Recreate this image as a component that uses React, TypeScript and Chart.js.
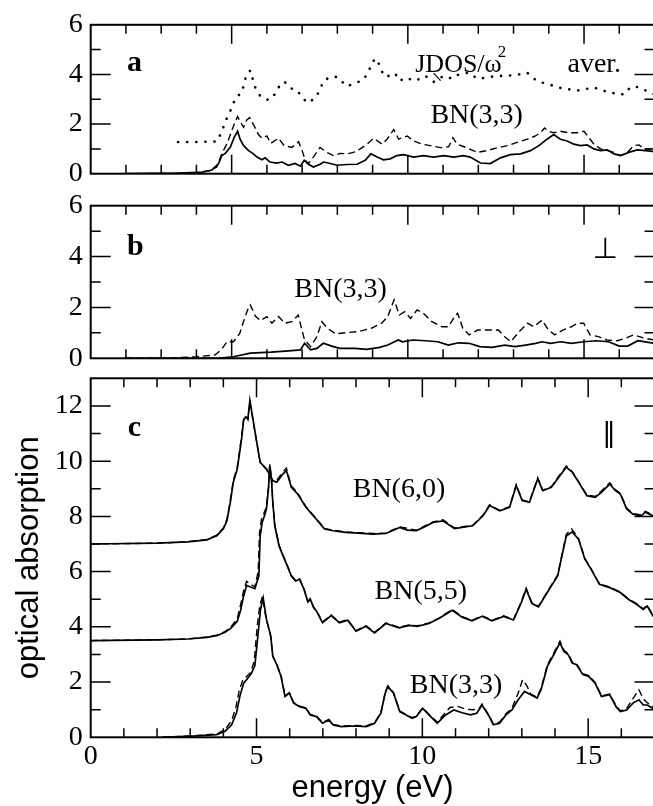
import React, { useEffect, useRef } from 'react';
import { Chart, registerables } from 'chart.js';

Chart.register(...registerables);

type Pt = [number, number];

// ---------------- data ----------------
// panel a (averaged)
const aJdos: Pt[] = [[3.48,1.28],[4.0,1.28],[4.59,1.3],[4.72,1.71],[4.89,2.33],[5.02,2.69],[5.1,3.05],[5.29,3.26],[5.41,3.94],[5.53,4.16],[5.6,3.8],[5.67,3.48],[5.81,3.13],[6.05,2.96],[6.24,3.22],[6.36,3.55],[6.5,3.71],[6.66,3.45],[6.87,3.35],[7.0,3.05],[7.18,2.85],[7.4,3.09],[7.51,3.41],[7.61,3.74],[7.8,3.9],[7.99,3.9],[8.27,3.52],[8.51,3.65],[8.74,3.78],[8.89,4.13],[8.98,4.46],[9.08,4.65],[9.22,4.33],[9.31,3.94],[9.5,3.94],[9.64,4.04],[9.77,3.74],[9.93,3.87],[10.21,3.74],[10.5,3.94],[10.73,3.7],[11.02,3.94],[11.26,3.83],[11.44,4.0],[11.73,4.07],[11.97,3.83],[12.25,3.87],[12.49,3.94],[12.72,3.94],[12.91,3.96],[13.15,4.0],[13.39,4.07],[13.53,3.87],[13.72,3.7],[14.0,3.61],[14.24,3.48],[14.52,3.41],[14.81,3.35],[15.04,3.41],[15.28,3.48],[15.52,3.35],[15.75,3.28],[15.99,3.18],[16.18,3.22],[16.27,3.41],[16.37,3.52],[16.56,3.48],[16.75,3.35],[16.94,3.22],[17,3.2]];
const aSolid: Pt[] = [[2.0,0],[3.44,0.02],[4.1,0.05],[4.44,0.15],[4.63,0.41],[4.72,0.73],[4.82,0.82],[4.96,1.06],[5.07,1.45],[5.17,1.71],[5.24,1.39],[5.34,1.13],[5.48,0.93],[5.62,0.8],[5.72,0.67],[5.86,0.56],[5.95,0.64],[6.09,0.47],[6.28,0.43],[6.43,0.47],[6.61,0.34],[6.8,0.41],[6.95,0.3],[7.06,0.54],[7.18,0.38],[7.32,0.27],[7.51,0.38],[7.61,0.47],[7.8,0.41],[7.99,0.34],[8.27,0.37],[8.56,0.38],[8.79,0.54],[8.95,0.8],[9.13,0.67],[9.31,0.56],[9.5,0.6],[9.69,0.73],[9.88,0.77],[10.16,0.67],[10.45,0.73],[10.73,0.67],[11.02,0.73],[11.3,0.67],[11.58,0.73],[11.77,0.67],[12.06,0.43],[12.34,0.41],[12.63,0.64],[12.91,0.77],[13.2,0.8],[13.48,0.93],[13.72,1.13],[13.95,1.39],[14.14,1.58],[14.33,1.39],[14.52,1.32],[14.71,1.19],[14.9,1.13],[15.09,1.16],[15.28,1.0],[15.47,0.93],[15.66,0.96],[15.85,0.8],[16.04,0.73],[16.27,0.86],[16.51,0.96],[16.75,0.93],[16.94,0.9],[17,0.9]];
const aDashed: Pt[] = [[2.0,0],[3.5,0.01],[4.01,0.04],[4.39,0.12],[4.58,0.27],[4.72,0.8],[4.86,1.19],[5.0,1.71],[5.1,2.1],[5.17,2.3],[5.24,2.1],[5.34,1.87],[5.43,2.17],[5.51,2.26],[5.62,1.98],[5.76,1.58],[5.86,1.43],[6.0,1.52],[6.11,1.22],[6.33,1.43],[6.49,1.13],[6.71,1.06],[6.9,1.29],[7.0,0.93],[7.09,0.54],[7.18,0.41],[7.32,0.67],[7.51,1.06],[7.7,0.86],[7.89,0.73],[8.08,0.82],[8.27,0.8],[8.46,0.86],[8.65,1.0],[8.84,1.19],[9.03,1.43],[9.27,1.19],[9.41,1.39],[9.6,1.78],[9.74,1.39],[9.98,1.52],[10.16,1.32],[10.4,1.19],[10.64,1.13],[10.97,1.04],[11.16,1.09],[11.28,1.45],[11.4,1.19],[11.68,1.04],[11.97,0.86],[12.25,0.93],[12.53,1.04],[12.82,1.13],[13.1,1.26],[13.39,1.39],[13.62,1.52],[13.76,1.65],[13.88,1.84],[14.0,1.71],[14.14,1.65],[14.33,1.71],[14.57,1.65],[14.81,1.65],[15.0,1.71],[15.14,1.45],[15.28,1.19],[15.47,1.0],[15.66,0.93],[15.85,0.86],[16.04,0.73],[16.23,0.86],[16.41,1.13],[16.56,1.16],[16.7,1.0],[16.89,1.0],[17,1.0]];

// panel b (perpendicular)
const bSolid: Pt[] = [[2.0,0],[4.58,0],[5.05,0.06],[5.53,0.2],[6.12,0.24],[6.71,0.3],[6.95,0.33],[7.07,0.59],[7.24,0.33],[7.42,0.39],[7.6,0.59],[7.84,0.48],[8.07,0.39],[8.49,0.39],[8.84,0.35],[9.2,0.43],[9.43,0.52],[9.73,0.72],[9.85,0.65],[10.14,0.72],[10.5,0.69],[10.85,0.65],[11.15,0.52],[11.44,0.61],[11.74,0.59],[12.04,0.46],[12.39,0.43],[12.75,0.52],[13.04,0.46],[13.34,0.52],[13.63,0.59],[13.81,0.65],[14.05,0.59],[14.34,0.65],[14.64,0.59],[14.99,0.65],[15.35,0.69],[15.7,0.65],[16.0,0.48],[16.24,0.48],[16.53,0.69],[17,0.59]];
const bDashed: Pt[] = [[2.0,0],[3.04,0],[3.99,0.06],[4.52,0.13],[4.7,0.33],[4.87,0.65],[5.05,0.65],[5.23,0.98],[5.35,1.5],[5.47,1.97],[5.53,2.1],[5.67,1.66],[5.82,1.48],[6.0,1.64],[6.14,1.38],[6.33,1.64],[6.51,1.38],[6.71,1.44],[6.89,1.7],[6.97,1.24],[7.07,0.72],[7.24,0.46],[7.42,0.85],[7.56,1.44],[7.72,1.18],[7.95,0.96],[8.25,1.01],[8.6,1.05],[8.96,1.18],[9.26,1.38],[9.43,1.64],[9.61,2.3],[9.76,1.7],[9.91,1.83],[10.08,1.57],[10.26,1.9],[10.44,1.77],[10.68,1.44],[10.97,1.24],[11.15,1.24],[11.33,1.64],[11.41,1.77],[11.56,1.18],[11.74,0.92],[11.98,1.11],[12.27,1.11],[12.57,1.11],[12.75,0.85],[12.92,0.65],[13.16,1.05],[13.4,1.38],[13.57,1.24],[13.81,1.5],[13.99,1.11],[14.17,0.92],[14.4,1.11],[14.64,1.24],[14.82,1.38],[14.99,1.38],[15.17,0.92],[15.41,0.85],[15.65,0.72],[15.94,0.69],[16.18,0.79],[16.41,0.92],[16.71,0.79],[17,0.72]];

// panel c (parallel), curves offset by 7 and 3.5
const c60Solid: Pt[] = [[0,7.0],[2.0,7.03],[2.92,7.08],[3.5,7.15],[3.8,7.3],[4.0,7.55],[4.11,7.85],[4.21,8.51],[4.3,9.24],[4.42,9.72],[4.55,10.81],[4.61,11.48],[4.67,11.6],[4.74,11.54],[4.8,12.2],[4.89,11.54],[4.99,10.81],[5.11,9.96],[5.3,9.72],[5.49,9.29],[5.61,9.24],[5.8,9.54],[5.9,9.66],[6.05,9.05],[6.24,8.81],[6.49,8.33],[6.8,7.9],[7.05,7.54],[7.31,7.48],[7.51,7.45],[7.68,7.42],[8.06,7.39],[8.51,7.36],[8.9,7.38],[9.32,7.6],[9.55,7.5],[9.82,7.48],[10.06,7.62],[10.32,7.78],[10.62,7.84],[10.97,7.56],[11.2,7.6],[11.52,7.66],[11.83,8.02],[12.03,8.39],[12.33,8.2],[12.63,8.33],[12.83,9.11],[13.01,8.57],[13.23,8.51],[13.48,9.36],[13.63,8.93],[13.89,9.05],[14.08,9.36],[14.34,9.78],[14.52,9.6],[14.71,9.24],[14.96,8.75],[15.21,8.69],[15.4,8.87],[15.65,9.17],[15.82,8.93],[15.97,8.81],[16.16,8.27],[16.35,8.08],[16.6,8.02],[16.72,8.15],[16.95,8.02],[17,8.05]];
const c60Dashed: Pt[] = [[0,7.0],[2.0,7.03],[2.92,7.08],[3.5,7.16],[3.8,7.32],[4.0,7.58],[4.11,7.9],[4.21,8.6],[4.3,9.3],[4.42,9.8],[4.55,10.9],[4.61,11.5],[4.67,11.65],[4.74,11.5],[4.8,12.15],[4.89,11.5],[4.99,10.8],[5.11,9.95],[5.3,9.7],[5.49,9.3],[5.61,9.3],[5.8,9.62],[5.9,9.75],[6.05,9.1],[6.24,8.85],[6.49,8.35],[6.8,7.92],[7.05,7.56],[7.31,7.5],[7.68,7.44],[8.06,7.41],[8.51,7.38],[8.9,7.4],[9.32,7.62],[9.82,7.5],[10.32,7.8],[10.62,7.88],[10.97,7.58],[11.52,7.68],[11.83,8.05],[12.03,8.42],[12.33,8.22],[12.63,8.35],[12.83,9.15],[13.01,8.6],[13.23,8.53],[13.48,9.4],[13.63,8.95],[13.89,9.08],[14.08,9.4],[14.34,9.82],[14.52,9.62],[14.71,9.26],[14.96,8.78],[15.21,8.72],[15.4,8.92],[15.65,9.22],[15.82,8.97],[15.97,8.84],[16.16,8.3],[16.35,8.1],[16.6,8.05],[16.72,8.18],[16.95,8.05],[17,8.08]];
const c55Solid: Pt[] = [[0,3.5],[2.0,3.53],[2.92,3.56],[3.5,3.62],[3.8,3.68],[4.05,3.8],[4.23,3.95],[4.42,4.2],[4.52,4.6],[4.61,5.11],[4.7,5.5],[4.8,5.45],[4.95,5.38],[5.07,5.84],[5.11,7.29],[5.17,7.78],[5.24,8.02],[5.3,8.27],[5.36,8.99],[5.4,9.84],[5.45,9.36],[5.49,8.51],[5.55,7.66],[5.68,6.93],[5.8,6.57],[5.93,6.2],[6.05,5.84],[6.18,5.66],[6.3,5.72],[6.43,5.36],[6.55,4.9],[6.62,5.0],[6.72,4.7],[6.81,4.57],[6.99,4.15],[7.25,4.41],[7.5,4.15],[7.75,4.24],[8.0,3.84],[8.3,4.02],[8.56,3.78],[8.9,4.12],[9.3,3.96],[9.6,4.05],[9.85,4.02],[10.2,4.12],[10.5,4.3],[10.9,4.6],[11.2,4.35],[11.5,4.22],[11.8,4.38],[12.1,4.22],[12.45,4.38],[12.75,4.25],[12.98,4.87],[13.13,5.36],[13.3,4.85],[13.5,4.72],[13.73,5.17],[13.9,5.5],[14.08,5.84],[14.21,6.57],[14.34,7.29],[14.52,7.44],[14.71,7.17],[14.9,6.45],[15.09,6.08],[15.34,5.54],[15.65,5.42],[15.97,5.24],[16.22,4.99],[16.47,4.81],[16.66,4.63],[16.78,4.75],[16.95,4.4],[17,4.45]];
const c55Dashed: Pt[] = [[0,3.5],[2.0,3.53],[2.92,3.56],[3.5,3.63],[3.8,3.7],[4.05,3.83],[4.23,4.0],[4.42,4.3],[4.52,4.8],[4.61,5.3],[4.7,5.65],[4.8,5.55],[4.95,5.45],[5.05,6.0],[5.09,7.4],[5.15,7.9],[5.22,8.1],[5.3,8.35],[5.36,9.05],[5.4,9.9],[5.45,9.4],[5.49,8.55],[5.55,7.7],[5.68,6.95],[5.8,6.6],[5.93,6.22],[6.05,5.86],[6.18,5.68],[6.3,5.74],[6.43,5.38],[6.55,4.92],[6.62,5.02],[6.72,4.72],[6.81,4.58],[6.99,4.17],[7.25,4.43],[7.5,4.17],[7.75,4.26],[8.0,3.86],[8.3,4.04],[8.56,3.8],[8.9,4.14],[9.3,3.98],[9.6,4.07],[9.85,4.04],[10.2,4.14],[10.5,4.32],[10.9,4.63],[11.2,4.37],[11.5,4.24],[11.8,4.4],[12.1,4.24],[12.45,4.4],[12.75,4.27],[12.98,4.9],[13.13,5.4],[13.3,4.88],[13.5,4.74],[13.73,5.2],[13.9,5.53],[14.08,5.88],[14.21,6.62],[14.34,7.35],[14.5,7.55],[14.71,7.2],[14.9,6.48],[15.09,6.1],[15.34,5.56],[15.65,5.44],[15.97,5.26],[16.22,5.01],[16.47,4.83],[16.66,4.65],[16.78,4.78],[16.95,4.42],[17,4.47]];
const c33Solid: Pt[] = [[2.16,0.0],[3.17,0.05],[3.8,0.1],[4.05,0.22],[4.25,0.45],[4.4,0.9],[4.5,1.5],[4.61,1.95],[4.74,2.15],[4.84,2.3],[4.95,2.6],[5.05,3.78],[5.12,4.63],[5.2,5.05],[5.3,4.27],[5.43,3.66],[5.49,2.93],[5.61,2.63],[5.74,2.2],[5.86,1.48],[5.99,1.6],[6.12,1.24],[6.3,1.11],[6.49,1.05],[6.62,0.81],[6.81,0.75],[6.99,0.51],[7.18,0.63],[7.31,0.45],[7.56,0.39],[7.94,0.41],[8.31,0.39],[8.56,0.51],[8.75,0.87],[8.88,1.6],[8.96,1.84],[9.13,1.6],[9.32,0.93],[9.51,0.81],[9.69,0.69],[9.82,0.75],[10.01,1.05],[10.2,0.81],[10.45,0.51],[10.7,0.81],[10.95,0.99],[11.2,0.89],[11.45,0.81],[11.64,0.87],[11.8,1.17],[12.02,0.75],[12.14,0.45],[12.33,0.51],[12.52,0.81],[12.7,0.99],[12.89,1.36],[13.08,1.66],[13.27,1.54],[13.46,1.42],[13.58,1.72],[13.77,2.57],[13.96,2.99],[14.15,3.42],[14.27,3.11],[14.4,2.99],[14.52,2.69],[14.65,2.63],[14.84,2.27],[15.02,2.2],[15.21,1.96],[15.4,1.48],[15.65,1.54],[15.84,1.11],[15.97,0.93],[16.16,0.99],[16.35,1.24],[16.53,1.36],[16.66,1.17],[16.78,1.17],[16.95,1.05],[17,1.05]];
const c33Dashed: Pt[] = [[2.16,0.0],[3.17,0.06],[3.8,0.12],[4.05,0.28],[4.25,0.6],[4.38,1.1],[4.48,1.7],[4.58,2.05],[4.7,2.2],[4.82,2.35],[4.93,2.75],[5.02,4.0],[5.1,4.8],[5.18,5.1],[5.28,4.35],[5.42,3.7],[5.49,2.95],[5.61,2.65],[5.74,2.22],[5.86,1.5],[5.99,1.62],[6.12,1.26],[6.3,1.13],[6.49,1.07],[6.62,0.83],[6.81,0.77],[6.99,0.53],[7.18,0.65],[7.31,0.47],[7.56,0.41],[7.94,0.43],[8.31,0.41],[8.56,0.53],[8.75,0.89],[8.88,1.62],[8.96,1.86],[9.13,1.62],[9.32,0.95],[9.51,0.83],[9.69,0.71],[9.82,0.77],[10.01,1.07],[10.2,0.83],[10.45,0.55],[10.7,0.9],[10.83,1.08],[11.07,1.12],[11.3,1.02],[11.5,1.0],[11.7,1.02],[11.8,1.2],[12.02,0.78],[12.14,0.48],[12.33,0.55],[12.52,0.85],[12.7,1.05],[12.89,1.6],[13.02,2.08],[13.15,1.87],[13.27,1.56],[13.46,1.46],[13.58,1.78],[13.77,2.62],[13.96,3.05],[14.15,3.48],[14.27,3.15],[14.4,3.03],[14.52,2.72],[14.65,2.66],[14.84,2.3],[15.02,2.23],[15.21,1.99],[15.4,1.5],[15.65,1.57],[15.84,1.14],[15.97,0.96],[16.16,1.05],[16.35,1.4],[16.53,1.72],[16.66,1.4],[16.78,1.25],[16.95,1.12],[17,1.1]];

// tick labels
const X_TICKS_C = [0, 5, 10, 15];
const Y_TICKS_AB = [0, 2, 4, 6];
const Y_TICKS_C = [0, 2, 4, 6, 8, 10, 12];

// ---------------- styling / layout ----------------
const CANVAS_W = 680;
const CANVAS_H = 806;
const PLOT_LEFT = 90.7;
const PLOT_RIGHT = 654.5;
const SERIF = '"Liberation Serif", "Times New Roman", serif';
const SANS = '"Liberation Sans", Arial, sans-serif';
const SYM = '"DejaVu Sans", "Liberation Serif", serif';

interface Note { text: string; x: number; y: number; size: number; bold?: boolean; family?: string; align?: CanvasTextAlign; baseline?: CanvasTextBaseline }
interface Seg { x1: number; y1: number; x2: number; y2: number }
interface Series { pts: Pt[]; style: 'solid' | 'dashed' | 'dotted' }
interface Panel {
  key: string; top: number; bottom: number; xMin: number; yMax: number;
  yTicks: number[]; showX: boolean; yTitle?: string;
  series: Series[]; notes: Note[]; segs: Seg[];
}

const PANELS: Panel[] = [
  {
    key: 'a', top: 20.7, bottom: 173.7, xMin: 1, yMax: 6, yTicks: Y_TICKS_AB, showX: false,
    series: [
      { pts: aSolid, style: 'solid' },
      { pts: aDashed, style: 'dashed' },
      { pts: aJdos, style: 'dotted' },
    ],
    notes: [
      { text: 'a', x: 2.03, y: 4.14, size: 30, bold: true },
      { text: 'JDOS/ω', x: 10.21, y: 4.1, size: 26 },
      { text: '2', x: 12.55, y: 4.72, size: 17 },
      { text: 'aver.', x: 14.53, y: 4.1, size: 28 },
      { text: 'BN(3,3)', x: 10.64, y: 2.05, size: 28 },
    ],
    segs: [{ x1: 10.73, y1: 4.05, x2: 10.93, y2: 3.75 }],
  },
  {
    key: 'b', top: 205.7, bottom: 358.3, xMin: 1, yMax: 6, yTicks: Y_TICKS_AB, showX: false,
    series: [
      { pts: bSolid, style: 'solid' },
      { pts: bDashed, style: 'dashed' },
    ],
    notes: [
      { text: 'b', x: 2.03, y: 4.05, size: 30, bold: true },
      { text: '⊥', x: 15.6, y: 3.95, size: 29, family: SYM, align: 'center' },
      { text: 'BN(3,3)', x: 6.78, y: 2.41, size: 28 },
    ],
    segs: [],
  },
  {
    key: 'c', top: 378.3, bottom: 737.3, xMin: 0, yMax: 13, yTicks: Y_TICKS_C, showX: true,
    yTitle: 'optical absorption',
    series: [
      { pts: c60Solid, style: 'solid' },
      { pts: c55Solid, style: 'solid' },
      { pts: c33Solid, style: 'solid' },
      { pts: c60Dashed, style: 'dashed' },
      { pts: c55Dashed, style: 'dashed' },
      { pts: c33Dashed, style: 'dashed' },
    ],
    notes: [
      { text: 'c', x: 1.12, y: 10.92, size: 30, bold: true },
      { text: '‖', x: 15.63, y: 10.97, size: 27, family: SYM, align: 'center', baseline: 'middle' },
      { text: 'BN(6,0)', x: 7.9, y: 8.7, size: 28 },
      { text: 'BN(5,5)', x: 8.56, y: 4.99, size: 28 },
      { text: 'BN(3,3)', x: 9.62, y: 1.6, size: 28 },
    ],
    segs: [],
  },
];

function decorPlugin(p: Panel) {
  return {
    id: 'decor_' + p.key,
    afterDraw(chart: any) {
      const { ctx, chartArea: a, scales } = chart;
      const xs = scales.x;
      const ys = scales.y;
      ctx.save();
      ctx.strokeStyle = '#000';
      ctx.lineWidth = 1.5;
      ctx.beginPath();
      for (let v = Math.ceil(xs.min); v <= Math.floor(xs.max); v++) {
        if (v === xs.min || v === xs.max) continue;
        const px = xs.getPixelForValue(v);
        const len = v % 5 === 0 ? 19 : 9;
        ctx.moveTo(px, a.top); ctx.lineTo(px, a.top + len);
        ctx.moveTo(px, a.bottom); ctx.lineTo(px, a.bottom - len);
      }
      for (let v = Math.ceil(ys.min); v <= Math.floor(ys.max); v++) {
        if (v === ys.min || v === ys.max) continue;
        const py = ys.getPixelForValue(v);
        const len = v % 2 === 0 ? 20 : 10;
        ctx.moveTo(a.left, py); ctx.lineTo(a.left + len, py);
        ctx.moveTo(a.right, py); ctx.lineTo(a.right - len, py);
      }
      ctx.stroke();
      ctx.lineWidth = 2;
      ctx.strokeRect(a.left, a.top, a.right - a.left, a.bottom - a.top);
      ctx.lineWidth = 1.2;
      for (const s of p.segs) {
        ctx.beginPath();
        ctx.moveTo(xs.getPixelForValue(s.x1), ys.getPixelForValue(s.y1));
        ctx.lineTo(xs.getPixelForValue(s.x2), ys.getPixelForValue(s.y2));
        ctx.stroke();
      }
      ctx.fillStyle = '#000';
      for (const n of p.notes) {
        ctx.font = `${n.bold ? 'bold ' : ''}${n.size}px ${n.family || SERIF}`;
        ctx.textAlign = n.align || 'left';
        ctx.textBaseline = n.baseline || 'alphabetic';
        ctx.fillText(n.text, xs.getPixelForValue(n.x), ys.getPixelForValue(n.y));
      }
      ctx.restore();
    },
  };
}

function buildConfig(p: Panel): any {
  const styleOf = (s: Series) => {
    if (s.style === 'dotted') return { borderWidth: 2.6, borderDash: [0.1, 9], borderCapStyle: 'round' };
    if (s.style === 'dashed') return { borderWidth: 1.4, borderDash: [7, 4], borderCapStyle: 'butt' };
    return { borderWidth: 1.7, borderDash: [], borderCapStyle: 'butt' };
  };
  return {
    type: 'line',
    data: {
      datasets: p.series.map((s) => ({
        data: s.pts.map(([x, y]) => ({ x, y })),
        borderColor: '#000',
        backgroundColor: '#000',
        pointRadius: 0,
        fill: false,
        tension: 0,
        ...styleOf(s),
      })),
    },
    options: {
      responsive: false,
      animation: false,
      events: [],
      layout: {
        padding: {
          left: 0,
          right: CANVAS_W - PLOT_RIGHT,
          top: p.top,
          bottom: p.showX ? 0 : CANVAS_H - p.bottom,
        },
      },
      plugins: { legend: { display: false }, tooltip: { enabled: false } },
      scales: {
        x: {
          type: 'linear',
          min: p.xMin,
          max: 17,
          display: p.showX,
          grid: { display: false, drawTicks: false },
          border: { display: false },
          afterBuildTicks: (scale: any) => { scale.ticks = X_TICKS_C.map((value) => ({ value })); },
          afterFit: (scale: any) => { scale.height = p.showX ? CANVAS_H - p.bottom : 0; },
          ticks: {
            color: '#000',
            font: { family: SERIF, size: 28 },
            padding: 3,
            maxRotation: 0,
            autoSkip: false,
          },
          title: {
            display: p.showX,
            text: 'energy (eV)',
            color: '#000',
            font: { family: SANS, size: 31, lineHeight: 1.1 },
            padding: { top: 0, bottom: 0 },
          },
        },
        y: {
          type: 'linear',
          min: 0,
          max: p.yMax,
          grid: { display: false, drawTicks: false },
          border: { display: false },
          afterBuildTicks: (scale: any) => { scale.ticks = p.yTicks.map((value) => ({ value })); },
          afterFit: (scale: any) => { scale.width = PLOT_LEFT; },
          ticks: {
            color: '#000',
            font: { family: SERIF, size: 28 },
            padding: 8,
            autoSkip: false,
          },
          title: {
            display: !!p.yTitle,
            text: p.yTitle || '',
            color: '#000',
            font: { family: SANS, size: 31, lineHeight: 1.1 },
            padding: { top: 12, bottom: 0 },
          },
        },
      },
    },
    plugins: [decorPlugin(p)],
  };
}

function PanelCanvas({ panel }: { panel: Panel }) {
  const ref = useRef<HTMLCanvasElement | null>(null);
  useEffect(() => {
    if (!ref.current) return;
    const chart = new Chart(ref.current, buildConfig(panel));
    return () => chart.destroy();
  }, [panel]);
  return (
    <canvas
      ref={ref}
      width={CANVAS_W}
      height={CANVAS_H}
      style={{ position: 'absolute', left: 0, top: 0, width: CANVAS_W, height: CANVAS_H }}
    />
  );
}

export default function App() {
  return (
    <div
      style={{
        position: 'absolute',
        left: 0,
        top: 0,
        width: 653,
        height: 806,
        overflow: 'hidden',
        background: '#fff',
      }}
    >
      {PANELS.map((p) => (
        <PanelCanvas key={p.key} panel={p} />
      ))}
    </div>
  );
}
